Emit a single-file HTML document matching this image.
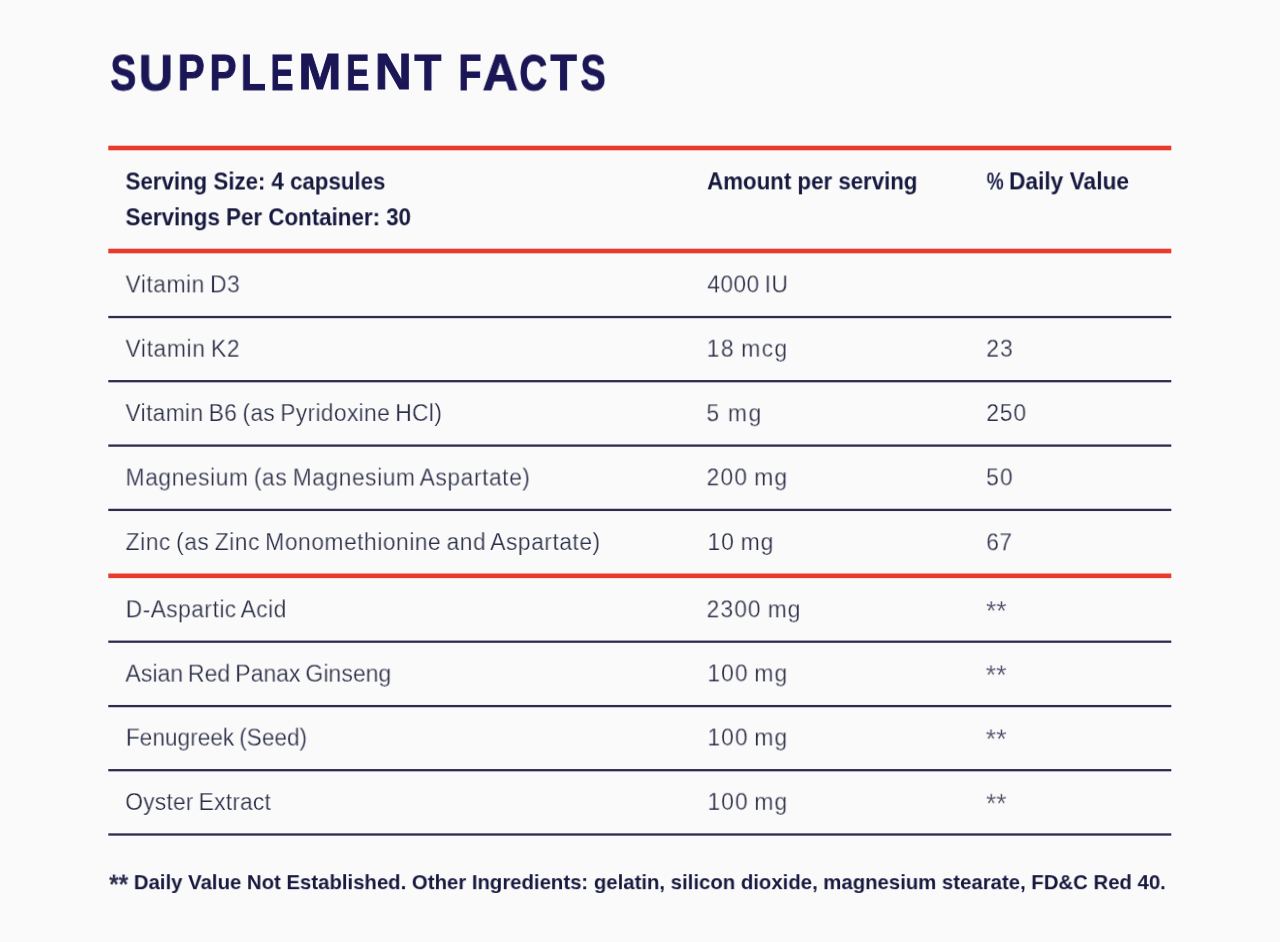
<!DOCTYPE html>
<html lang="en">
<head>
<meta charset="utf-8">
<title>Supplement Facts</title>
<style>
html,body{margin:0;padding:0;}
body{width:1280px;height:942px;background:#fafafa;position:relative;overflow:hidden;font-family:"Liberation Sans",Arial,sans-serif;}
.x{position:absolute;left:0;top:0;transform-origin:0 0;will-change:transform;white-space:nowrap;line-height:1;margin:0;padding:0;}
.b{-webkit-text-stroke:0.25px #fafafa;word-spacing:-1.5px;}
.g{position:absolute;left:0;top:0;}
.t{-webkit-text-stroke:1px #1b1656;}
h1,p,.thead,.row{margin:0;padding:0;font:inherit;height:0;line-height:0;font-size:0;}
</style>
</head>
<body>
<svg class="g" width="1280" height="942" viewBox="0 0 1280 942">
<rect x="108.3" y="145.70" width="1063" height="4.60" fill="#e93b2c"/>
<rect x="108.3" y="248.70" width="1063" height="4.60" fill="#e93b2c"/>
<rect x="108.3" y="573.50" width="1063" height="4.60" fill="#e93b2c"/>
<rect x="108.3" y="315.90" width="1063" height="2.30" fill="#2f2d4c"/>
<rect x="108.3" y="380.05" width="1063" height="2.30" fill="#2f2d4c"/>
<rect x="108.3" y="444.45" width="1063" height="2.30" fill="#2f2d4c"/>
<rect x="108.3" y="508.75" width="1063" height="2.30" fill="#2f2d4c"/>
<rect x="108.3" y="640.55" width="1063" height="2.30" fill="#2f2d4c"/>
<rect x="108.3" y="704.95" width="1063" height="2.30" fill="#2f2d4c"/>
<rect x="108.3" y="769.05" width="1063" height="2.30" fill="#2f2d4c"/>
<rect x="108.3" y="833.35" width="1063" height="2.30" fill="#2f2d4c"/>
</svg>
<h1><span class="x t" id="t0" style="font-size:49.2px;font-weight:700;color:#1b1656;transform:translate(110.52px,48.42px) scaleX(0.7805)">S</span><span class="x t" id="t1" style="font-size:49.2px;font-weight:700;color:#1b1656;transform:translate(138.93px,48.38px) scaleX(0.9561)">U</span><span class="x t" id="t2" style="font-size:49.2px;font-weight:700;color:#1b1656;transform:translate(177.70px,47.89px) scaleX(0.8218)">P</span><span class="x t" id="t3" style="font-size:49.2px;font-weight:700;color:#1b1656;transform:translate(209.47px,47.89px) scaleX(0.8230)">P</span><span class="x t" id="t4" style="font-size:49.2px;font-weight:700;color:#1b1656;transform:translate(240.77px,47.89px) scaleX(0.8317)">L</span><span class="x t" id="t5" style="font-size:49.2px;font-weight:700;color:#1b1656;transform:translate(270.44px,47.89px) scaleX(0.7041)">E</span><span class="x t" id="t6" style="font-size:49.2px;font-weight:700;color:#1b1656;transform:translate(298.27px,47.44px) scaleX(1.0551)">M</span><span class="x t" id="t7" style="font-size:49.2px;font-weight:700;color:#1b1656;transform:translate(346.15px,47.89px) scaleX(0.7079)">E</span><span class="x t" id="t8" style="font-size:49.2px;font-weight:700;color:#1b1656;transform:translate(374.81px,47.44px) scaleX(1.0422)">N</span><span class="x t" id="t9" style="font-size:49.2px;font-weight:700;color:#1b1656;transform:translate(414.35px,47.89px) scaleX(0.8978)">T</span> <span class="x t" id="t10" style="font-size:49.2px;font-weight:700;color:#1b1656;transform:translate(458.37px,47.89px) scaleX(0.7674)">F</span><span class="x t" id="t11" style="font-size:49.2px;font-weight:700;color:#1b1656;transform:translate(482.69px,47.89px) scaleX(0.9900)">A</span><span class="x t" id="t12" style="font-size:49.2px;font-weight:700;color:#1b1656;transform:translate(519.28px,48.46px) scaleX(0.7862)">C</span><span class="x t" id="t13" style="font-size:49.2px;font-weight:700;color:#1b1656;transform:translate(550.44px,47.89px) scaleX(0.8770)">T</span><span class="x t" id="t14" style="font-size:49.2px;font-weight:700;color:#1b1656;transform:translate(580.55px,48.42px) scaleX(0.7650)">S</span></h1>
<div class="thead">
<div><span class="x" id="h1" style="font-size:23.5px;font-weight:700;color:#17193f;transform:translate(125.52px,170.50px) scaleX(0.9473)">Serving Size: 4 capsules</span><br><span class="x" id="h2" style="font-size:23.5px;font-weight:700;color:#17193f;transform:translate(125.50px,206.26px) scaleX(0.9505)">Servings Per Container: 30</span></div>
<div><span class="x" id="h3" style="font-size:23.5px;font-weight:700;color:#17193f;transform:translate(707.13px,170.35px) scaleX(0.9476)">Amount per serving</span></div>
<div><span class="x" id="h4" style="font-size:23.5px;font-weight:700;color:#262a50;transform:translate(986.67px,170.51px) scaleX(0.8132)">%</span> <span class="x" id="h5" style="font-size:23.5px;font-weight:700;color:#17193f;transform:translate(1009.00px,170.36px) scaleX(0.9669)">Daily Value</span></div>
</div>
<div class="row"><span class="x b" id="n0" style="font-size:23.5px;font-weight:400;color:#2c2f48;letter-spacing:0.52px;transform:translate(125.48px,273.36px) scaleX(0.9722)">Vitamin D3</span> <span class="x b" id="a0" style="font-size:23.5px;font-weight:400;color:#2c2f48;letter-spacing:0.39px;transform:translate(707.29px,273.37px) scaleX(0.9678)">4000 IU</span></div>
<div class="row"><span class="x b" id="n1" style="font-size:23.5px;font-weight:400;color:#2c2f48;letter-spacing:0.59px;transform:translate(125.40px,337.63px) scaleX(0.9752)">Vitamin K2</span> <span class="x b" id="a1" style="font-size:23.5px;font-weight:400;color:#2c2f48;letter-spacing:1.37px;transform:translate(706.71px,337.60px) scaleX(0.9767)">18 mcg</span> <span class="x b" id="p1" style="font-size:23.5px;font-weight:400;color:#2c2f48;letter-spacing:1.04px;transform:translate(986.28px,337.61px) scaleX(0.9781)">23</span></div>
<div class="row"><span class="x b" id="n2" style="font-size:23.5px;font-weight:400;color:#2c2f48;letter-spacing:0.34px;transform:translate(125.45px,401.99px) scaleX(0.9706)">Vitamin B6 (as Pyridoxine HCl)</span> <span class="x b" id="a2" style="font-size:23.5px;font-weight:400;color:#2c2f48;letter-spacing:1.89px;transform:translate(706.45px,402.19px) scaleX(0.9734)">5 mg</span> <span class="x b" id="p2" style="font-size:23.5px;font-weight:400;color:#2c2f48;letter-spacing:0.79px;transform:translate(986.29px,401.98px) scaleX(0.9763)">250</span></div>
<div class="row"><span class="x b" id="n3" style="font-size:23.5px;font-weight:400;color:#2c2f48;letter-spacing:0.57px;transform:translate(125.57px,466.46px) scaleX(0.9705)">Magnesium (as Magnesium Aspartate)</span> <span class="x b" id="a3" style="font-size:23.5px;font-weight:400;color:#2c2f48;letter-spacing:1.20px;transform:translate(706.56px,466.28px) scaleX(0.9720)">200 mg</span> <span class="x b" id="p3" style="font-size:23.5px;font-weight:400;color:#2c2f48;letter-spacing:1.13px;transform:translate(986.16px,466.33px) scaleX(0.9680)">50</span></div>
<div class="row"><span class="x b" id="n4" style="font-size:23.5px;font-weight:400;color:#2c2f48;letter-spacing:0.54px;transform:translate(125.63px,530.98px) scaleX(0.9696)">Zinc (as Zinc Monomethionine and Aspartate)</span> <span class="x b" id="a4" style="font-size:23.5px;font-weight:400;color:#2c2f48;letter-spacing:1.02px;transform:translate(707.57px,530.98px) scaleX(0.9686)">10 mg</span> <span class="x b" id="p4" style="font-size:23.5px;font-weight:400;color:#2c2f48;letter-spacing:0.44px;transform:translate(986.30px,531.28px) scaleX(0.9641)">67</span></div>
<div class="row"><span class="x b" id="n5" style="font-size:23.5px;font-weight:400;color:#2c2f48;letter-spacing:0.46px;transform:translate(125.73px,598.28px) scaleX(0.9699)">D-Aspartic Acid</span> <span class="x b" id="a5" style="font-size:23.5px;font-weight:400;color:#2c2f48;letter-spacing:1.12px;transform:translate(706.59px,598.26px) scaleX(0.9707)">2300 mg</span> <span class="x b" id="p5" style="font-size:28px;font-weight:400;color:#474a63;transform:translate(986.10px,597.16px) scaleX(0.9321)">**</span></div>
<div class="row"><span class="x b" id="n6" style="font-size:23.5px;font-weight:400;color:#2c2f48;transform:translate(125.38px,662.58px) scaleX(0.9806)">Asian Red Panax Ginseng</span> <span class="x b" id="a6" style="font-size:23.5px;font-weight:400;color:#2c2f48;letter-spacing:1.03px;transform:translate(707.44px,662.37px) scaleX(0.9715)">100 mg</span> <span class="x b" id="p6" style="font-size:28px;font-weight:400;color:#474a63;transform:translate(985.77px,661.24px) scaleX(0.9492)">**</span></div>
<div class="row"><span class="x b" id="n7" style="font-size:23.5px;font-weight:400;color:#2c2f48;transform:translate(125.86px,726.51px) scaleX(0.9645)">Fenugreek (Seed)</span> <span class="x b" id="a7" style="font-size:23.5px;font-weight:400;color:#2c2f48;letter-spacing:1.03px;transform:translate(707.52px,726.43px) scaleX(0.9699)">100 mg</span> <span class="x b" id="p7" style="font-size:28px;font-weight:400;color:#474a63;transform:translate(985.76px,725.30px) scaleX(0.9508)">**</span></div>
<div class="row"><span class="x b" id="n8" style="font-size:23.5px;font-weight:400;color:#2c2f48;letter-spacing:0.22px;transform:translate(125.25px,790.96px) scaleX(0.9686)">Oyster Extract</span> <span class="x b" id="a8" style="font-size:23.5px;font-weight:400;color:#2c2f48;letter-spacing:1.03px;transform:translate(707.59px,790.79px) scaleX(0.9690)">100 mg</span> <span class="x b" id="p8" style="font-size:28px;font-weight:400;color:#474a63;transform:translate(986.11px,789.75px) scaleX(0.9281)">**</span></div>
<p><span class="x" id="f0" style="font-size:27px;font-weight:700;color:#2b2d4e;transform:translate(109.10px,871.51px) scaleX(0.9122)">**</span> <span class="x" id="f1" style="font-size:21px;font-weight:700;color:#17193f;transform:translate(133.82px,871.14px) scaleX(0.9686)">Daily Value Not Established. Other Ingredients: gelatin, silicon dioxide, magnesium stearate, FD&amp;C Red 40.</span></p>
</body>
</html>
